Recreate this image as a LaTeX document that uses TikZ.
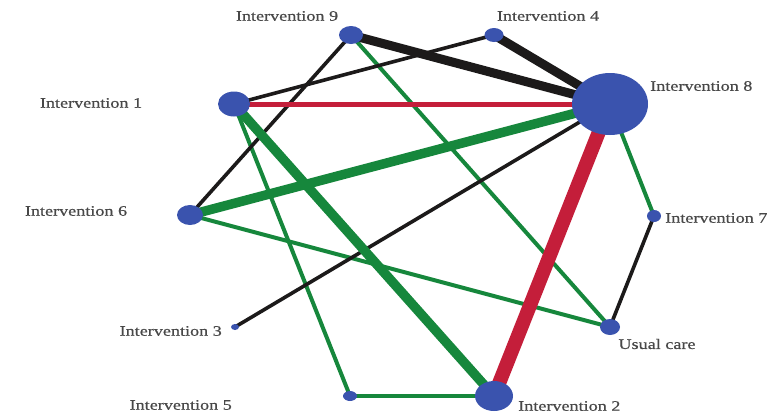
\documentclass[tikz,border=0pt]{standalone}
\usepackage{fontspec}
\setmainfont{Liberation Serif}
\newfontfamily\lblfont[FakeStretch=1.25,FakeBold=0.6]{Liberation Serif}
\usetikzlibrary{backgrounds,shapes.geometric}
\definecolor{nodeblue}{HTML}{3A53AE}
\definecolor{egreen}{HTML}{16873C}
\definecolor{ered}{HTML}{C41E3A}
\definecolor{eblack}{HTML}{1C1A1A}
\definecolor{lblgray}{HTML}{484848}
\tikzset{
  nd/.style={ellipse, fill=nodeblue, inner sep=0pt, draw=none},
  lbl/.style={font=\lblfont\fontsize{14.5}{16}\selectfont, text=lblgray, inner sep=0pt},
  gthin/.style={draw=egreen, line width=4pt},
  bthin/.style={draw=eblack, line width=3.6pt},
}
\begin{document}
\begin{tikzpicture}[x=1pt,y=-1pt]
\useasboundingbox (0,0) rectangle (775,416);
% nodes
\node[nd, minimum width=24pt, minimum height=18pt] (n9) at (351,35) {};
\node[nd, minimum width=19pt, minimum height=14pt] (n4) at (494,35) {};
\node[nd, minimum width=76pt, minimum height=62pt] (n8) at (610,104) {};
\node[nd, minimum width=32pt, minimum height=25pt] (n1) at (234,104) {};
\node[nd, minimum width=26pt, minimum height=20pt] (n6) at (190,215) {};
\node[nd, minimum width=14pt, minimum height=12pt] (n7) at (654,216) {};
\node[nd, minimum width=8pt, minimum height=6pt] (n3) at (235,327) {};
\node[nd, minimum width=20pt, minimum height=16pt] (nu) at (610,327) {};
\node[nd, minimum width=14pt, minimum height=10pt] (n5) at (350,396) {};
\node[nd, minimum width=38pt, minimum height=30pt] (n2) at (494,396) {};
% labels
\node[lbl] (l9) at (287,16) {Intervention 9};
\node[lbl] (l4) at (548,16) {Intervention 4};
\node[lbl, anchor=west] (l8) at (650,86) {Intervention 8};
\node[lbl] (l1) at (91,103) {Intervention 1};
\node[lbl] (l6) at (76,211) {Intervention 6};
\node[lbl, anchor=west] (l7) at (665,218) {Intervention 7};
\node[lbl, anchor=east] (l3) at (222,331) {Intervention 3};
\node[lbl] (lu) at (657,344) {Usual care};
\node[lbl, anchor=east] (l5) at (232,405) {Intervention 5};
\node[lbl, anchor=west] (l2) at (518,406) {Intervention 2};
% edges
\begin{pgfonlayer}{background}
\draw[gthin] (n9.center) -- (nu.center);
\draw[gthin] (n1.center) -- (n5.center);
\draw[gthin] (n6.center) -- (nu.center);
\draw[gthin] (n5.center) -- (n2.center);
\draw[gthin] (n8.center) -- (n7.center);
\draw[bthin] (n3.center) -- (n8.center);
\draw[bthin] (n7.center) -- (nu.center);
\draw[bthin] (n1.center) -- (n4.center);
\draw[bthin] (n9.center) -- (n6.center);
\draw[draw=ered, line width=5pt] (n1.center) -- (n8.center);
\draw[draw=eblack, line width=9pt] (n9.center) -- (n8.center);
\draw[draw=eblack, line width=9pt] (n4.center) -- (n8.center);
\draw[draw=egreen, line width=9.5pt] (n6.center) -- (n8.center);
\draw[draw=egreen, line width=9.5pt] (n1.center) -- (n2.center);
\draw[draw=ered, line width=14pt] (n8.center) -- (n2.center);
\end{pgfonlayer}
\end{tikzpicture}
\end{document}
